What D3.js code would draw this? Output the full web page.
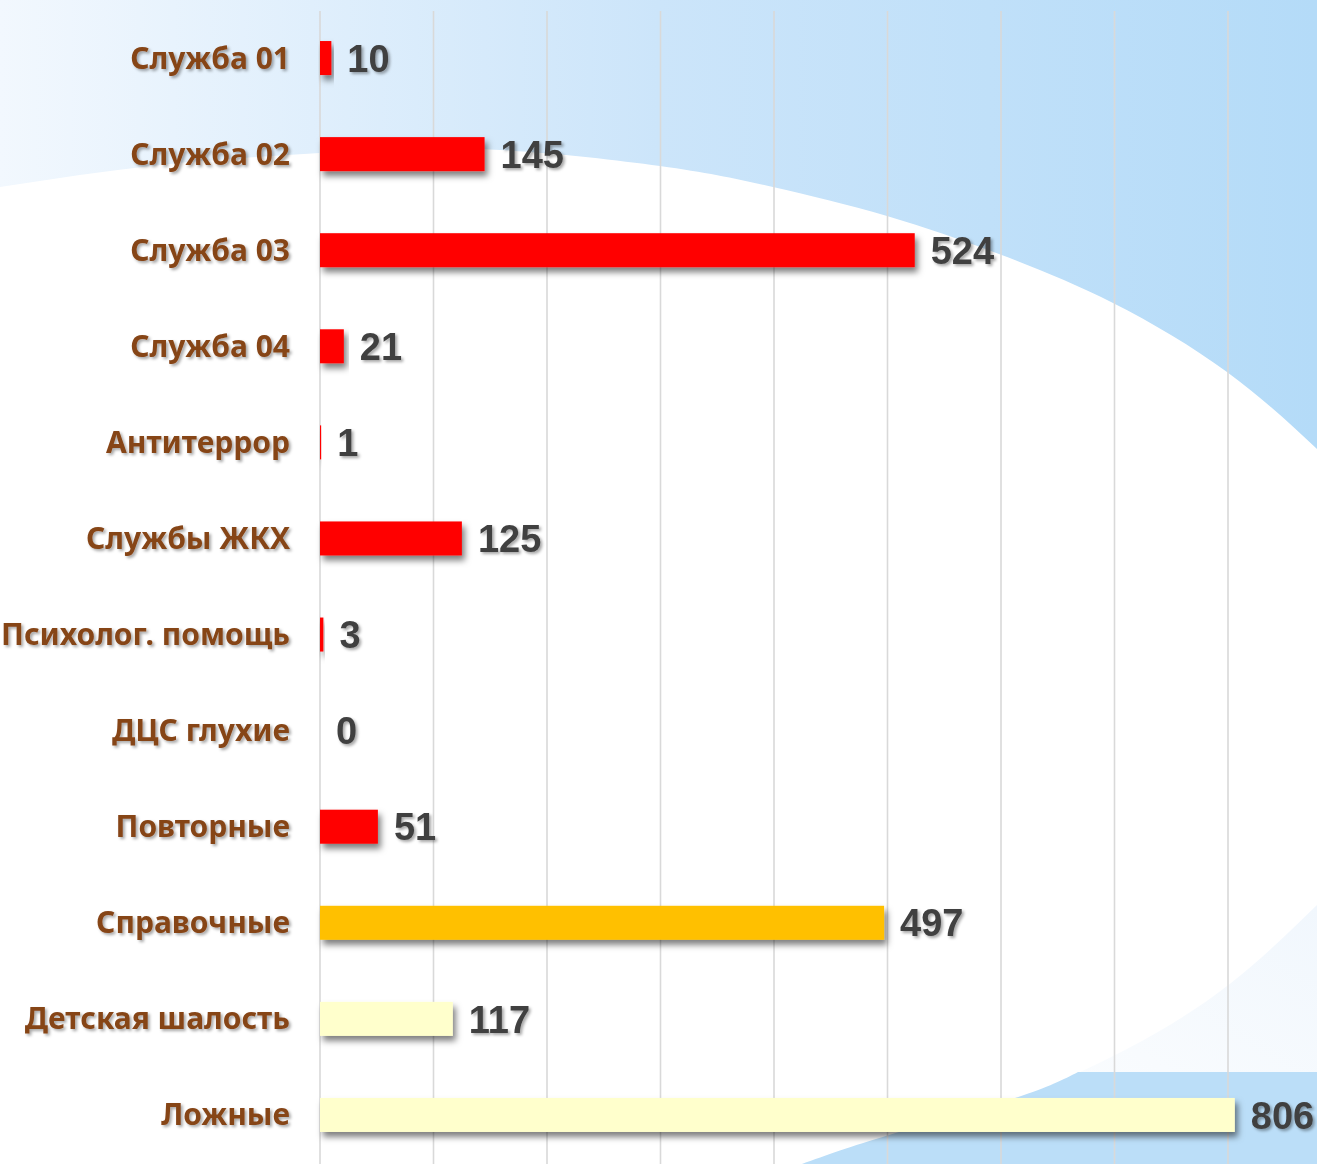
<!DOCTYPE html>
<html>
<head>
<meta charset="utf-8">
<script src="https://cdn.jsdelivr.net/npm/d3@7"></script>
<style>
  html, body { margin: 0; padding: 0; background: #fff; overflow: hidden; }
  svg { display: block; }
</style>
</head>
<body>
<div id="chart"></div>
<script>
// Данные: обращения по службам
const categories = [
  "Служба 01", "Служба 02", "Служба 03", "Служба 04", "Антитеррор",
  "Службы ЖКХ", "Психолог. помощь", "ДЦС глухие", "Повторные",
  "Справочные", "Детская шалость", "Ложные"
];
const values = [10, 145, 524, 21, 1, 125, 3, 0, 51, 497, 117, 806];
const groups = ["service", "service", "service", "service", "service",
  "service", "service", "service", "service", "info", "false", "false"];
const groupColors = { service: "#ff0000", info: "#ffc000", false: "#ffffcc" };
const gridTicks = [0, 100, 200, 300, 400, 500, 600, 700, 800];

const W = 1317, H = 1164;
const svg = d3.select("#chart").append("svg")
  .attr("width", W).attr("height", H);

const defs = svg.append("defs");
const grad = defs.append("linearGradient").attr("id", "bg").attr("x1", 0).attr("x2", 1).attr("y1", 0).attr("y2", 0);
grad.append("stop").attr("offset", 0).attr("stop-color", "#f2f8fe");
grad.append("stop").attr("offset", 0.5).attr("stop-color", "#cce5fa");
grad.append("stop").attr("offset", 1).attr("stop-color", "#b4dbf8");

const faint = defs.append("linearGradient").attr("id", "faint").attr("x1", 0).attr("x2", 1).attr("y1", 1).attr("y2", 0);
faint.append("stop").attr("offset", 0).attr("stop-color", "#ffffff");
faint.append("stop").attr("offset", 1).attr("stop-color", "#f1f7fd");

const barShadow = defs.append("filter").attr("id", "barShadow")
  .attr("x", "-10%").attr("y", "-30%").attr("width", "130%").attr("height", "180%");
barShadow.append("feDropShadow").attr("dx", 3).attr("dy", 5).attr("stdDeviation", 3)
  .attr("flood-color", "#000").attr("flood-opacity", 0.5);

const textShadow = defs.append("filter").attr("id", "textShadow")
  .attr("x", "-10%").attr("y", "-30%").attr("width", "130%").attr("height", "180%");
textShadow.append("feDropShadow").attr("dx", 2).attr("dy", 2).attr("stdDeviation", 1.5)
  .attr("flood-color", "#000").attr("flood-opacity", 0.35);

// фон: голубой градиент, белая дуга, декоративные фигуры снизу справа
svg.append("rect").attr("width", W).attr("height", H).attr("fill", "url(#bg)");

const arcPts = [[0, 187], [160, 165], [320, 153], [480, 149], [660, 166],
  [773, 187], [887, 216], [999, 254], [1113, 303], [1227, 372], [1317, 449]];
const arc = d3.line().curve(d3.curveNatural)(arcPts);
svg.append("path")
  .attr("d", arc + `L${W},${H}L0,${H}Z`)
  .attr("fill", "#ffffff");

const faintPts = [[1317, 905], [1231, 983], [1125, 1050], [1000, 1110], [900, 1164]];
svg.append("path")
  .attr("d", d3.line().curve(d3.curveNatural)(faintPts) + `L${W},${H}Z`)
  .attr("fill", "url(#faint)");

const bluePts = [[802, 1164], [889, 1135], [1015, 1098], [1078, 1072]];
svg.append("path")
  .attr("d", d3.line().curve(d3.curveNatural)(bluePts) + `L${W},1072L${W},${H}Z`)
  .attr("fill", "#bbdef8");

// шкалы
const x = d3.scaleLinear().domain([0, 900]).range([320, 1341.5]);
const y = d3.scaleBand().domain(categories).range([10, 1163])
  .paddingInner(0.646).paddingOuter(0.323);

// сетка
svg.append("g").selectAll("line")
  .data(gridTicks).join("line")
  .attr("x1", d => x(d)).attr("x2", d => x(d))
  .attr("y1", 11).attr("y2", H)
  .attr("stroke", "#d9d9d9").attr("stroke-width", 1.6);

const rows = categories.map((c, i) => ({ cat: c, value: values[i], group: groups[i] }));

// столбцы
svg.append("g").selectAll("rect")
  .data(rows).join("rect")
  .attr("x", x(0))
  .attr("y", d => y(d.cat))
  .attr("width", d => x(d.value) - x(0))
  .attr("height", y.bandwidth())
  .attr("fill", d => groupColors[d.group])
  .attr("filter", d => d.value > 0 ? "url(#barShadow)" : null);

// подписи категорий
svg.append("g").selectAll("text")
  .data(rows).join("text")
  .attr("x", 290)
  .attr("y", d => y(d.cat) + y.bandwidth() / 2)
  .attr("dy", "0.35em")
  .attr("text-anchor", "end")
  .attr("fill", "#864519")
  .attr("filter", "url(#textShadow)")
  .style("font-family", "'Noto Sans', 'DejaVu Sans', sans-serif")
  .style("font-weight", 700)
  .style("font-size", "30px")
  .text(d => d.cat);

// значения
svg.append("g").selectAll("text")
  .data(rows).join("text")
  .attr("x", d => x(d.value) + 16)
  .attr("y", d => y(d.cat) + y.bandwidth() / 2)
  .attr("dy", "0.36em")
  .attr("fill", "#404040")
  .attr("filter", "url(#textShadow)")
  .style("font-family", "'Liberation Sans', Arial, sans-serif")
  .style("font-weight", 700)
  .style("font-size", "38px")
  .text(d => d.value);
</script>
</body>
</html>
